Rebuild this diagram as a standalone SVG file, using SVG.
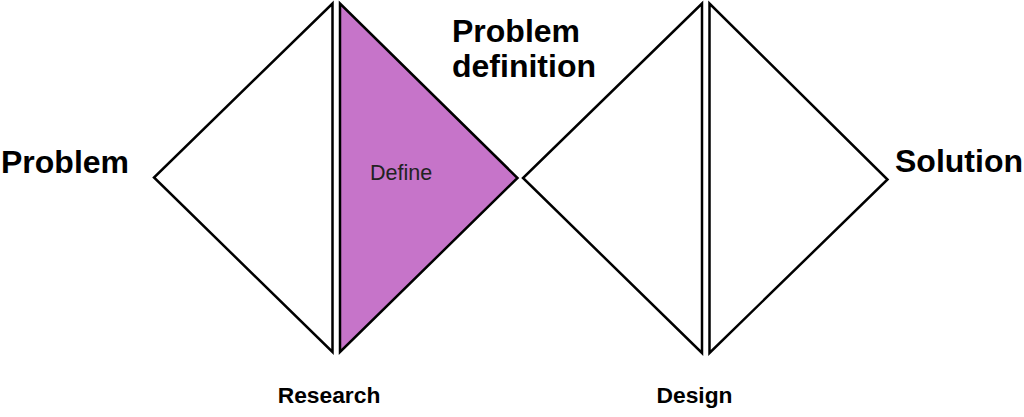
<svg xmlns="http://www.w3.org/2000/svg" width="1024" height="417" viewBox="0 0 1024 417">
<style>
.tri{stroke:#000;stroke-width:2.5;stroke-linejoin:miter;fill:#fff}
.purple{fill:#C674C9}
.big{font-family:"Liberation Sans",Arial,sans-serif;font-weight:bold;font-size:32px;fill:#000}
.small{font-family:"Liberation Sans",Arial,sans-serif;font-weight:bold;font-size:22.8px;fill:#000}
.inner{font-family:"Liberation Sans",Arial,sans-serif;font-size:21.5px;fill:#222}
</style>
<rect width="1024" height="417" fill="#fff"/>
<g id="discover"><polygon class="tri" points="332.5,3.5 332.5,352 154,177.5"/></g>
<g id="define"><polygon class="tri purple" points="340,3.5 340,352 517.5,178"/><text class="inner" x="370" y="180">Define</text></g>
<g id="develop"><polygon class="tri" points="702,3.5 702,353 523,178"/></g>
<g id="deliver"><polygon class="tri" points="709.5,3.5 709.5,353 887.5,179.5"/></g>
<g id="label-problem"><text class="big" x="1" y="173">Problem</text></g>
<g id="label-problem-definition"><text class="big" x="452" y="42">Problem</text><text class="big" x="452" y="77">definition</text></g>
<g id="label-solution"><text class="big" x="895" y="172">Solution</text></g>
<g id="label-research"><text class="small" x="329" y="403" text-anchor="middle">Research</text></g>
<g id="label-design"><text class="small" x="694.5" y="403" text-anchor="middle">Design</text></g>
<g id="connectors"></g>
</svg>
